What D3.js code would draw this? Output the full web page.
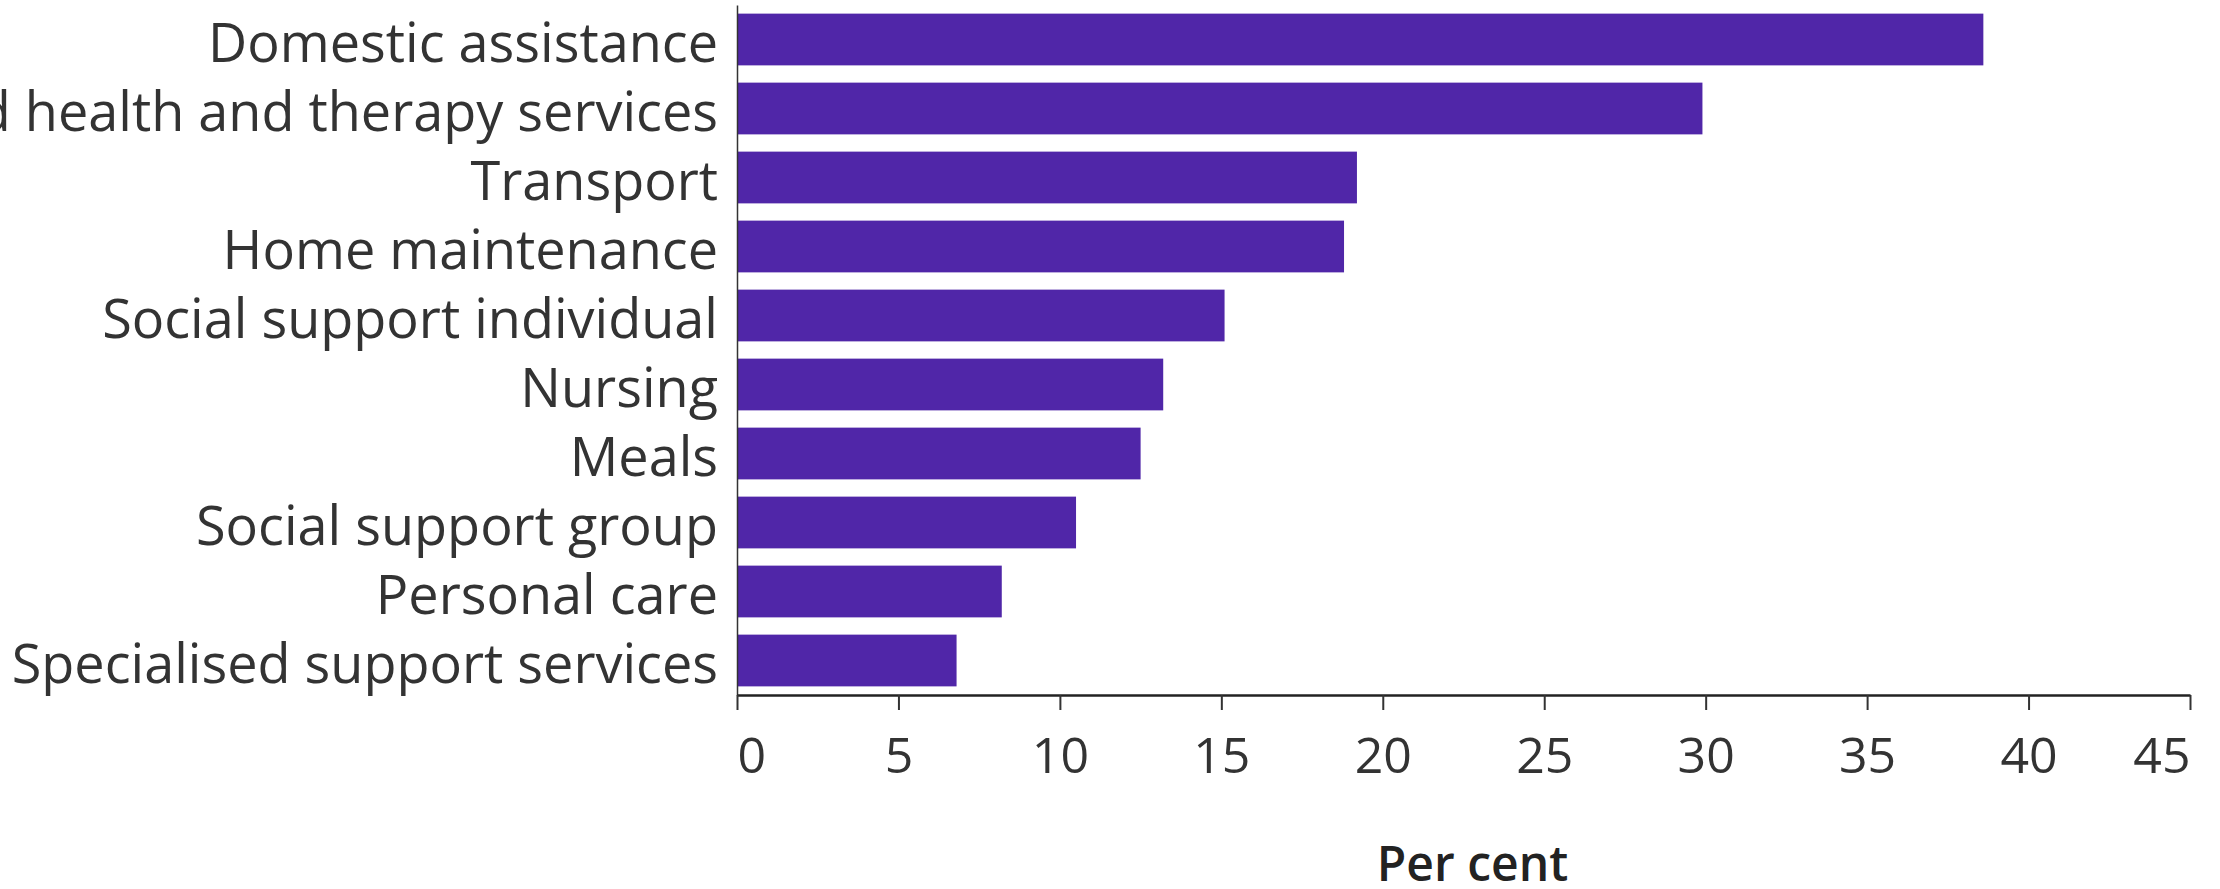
<!DOCTYPE html>
<html>
<head>
<meta charset="utf-8">
<script src="https://cdn.jsdelivr.net/npm/d3@7"></script>
<style>
  body { margin: 0; background: #fff; }
  svg { display: block; }
</style>
</head>
<body>
<div id="d3_viz"></div>
<script>
// categories (top to bottom) and their values, per cent
let services = [
  'Domestic assistance',
  'Allied health and therapy services',
  'Transport',
  'Home maintenance',
  'Social support individual',
  'Nursing',
  'Meals',
  'Social support group',
  'Personal care',
  'Specialised support services'
];
let percents = [38.6, 29.9, 19.2, 18.8, 15.1, 13.2, 12.5, 10.5, 8.2, 6.8];
let xTicks = [0, 5, 10, 15, 20, 25, 30, 35, 40, 45];

let width = 2220;
let height = 889;
let margin = {top: 5, right: 30, bottom: 194, left: 737};
let font = '"Open Sans", sans-serif';

let data = services.map((s, i) => ({service: s, value: percents[i]}));

let svg = d3.select('#d3_viz')
  .append('svg')
    .attr('width', width)
    .attr('height', height);

let x = d3.scaleLinear()
  .domain([0, 45])
  .range([margin.left, width - margin.right]);

let y = d3.scaleBand()
  .domain(services)
  .range([margin.top, height - margin.bottom])
  .paddingInner(0.25)
  .paddingOuter(0.125);

// bars
svg.append('g')
  .selectAll('rect')
  .data(data)
  .enter()
  .append('rect')
    .attr('x', x(0))
    .attr('y', d => y(d.service))
    .attr('width', d => x(d.value) - x(0))
    .attr('height', y.bandwidth())
    .attr('fill', '#5026a8');

// y axis
let yAxis = svg.append('g')
  .attr('transform', 'translate(' + x(0) + ',0)')
  .call(d3.axisLeft(y).tickSize(0).tickPadding(19));

yAxis.select('.domain').attr('stroke', '#333').attr('stroke-width', 1.5);
yAxis.selectAll('text')
  .attr('font-family', font)
  .attr('font-size', 54)
  .attr('dy', '0.42em')
  .attr('fill', '#333');

// x axis
let xAxis = svg.append('g')
  .attr('transform', 'translate(0,' + (height - margin.bottom) + ')')
  .call(d3.axisBottom(x).tickValues(xTicks).tickSize(15).tickSizeOuter(0).tickPadding(27));

xAxis.select('.domain').attr('stroke', '#222').attr('stroke-width', 2.5);
xAxis.selectAll('line').attr('stroke', '#333').attr('stroke-width', 2);
xAxis.selectAll('text')
  .attr('font-family', font)
  .attr('font-size', 50)
  .attr('fill', '#333')
  .attr('text-anchor', (d, i) => i === 0 ? 'start' : (i === xTicks.length - 1 ? 'end' : 'middle'));

// axis title
svg.append('text')
  .attr('x', (x(0) + x(45)) / 2 + 9)
  .attr('y', 881)
  .attr('text-anchor', 'middle')
  .attr('font-family', font)
  .attr('font-weight', 600)
  .attr('font-size', 48)
  .attr('fill', '#222')
  .text('Per cent');
</script>
</body>
</html>
